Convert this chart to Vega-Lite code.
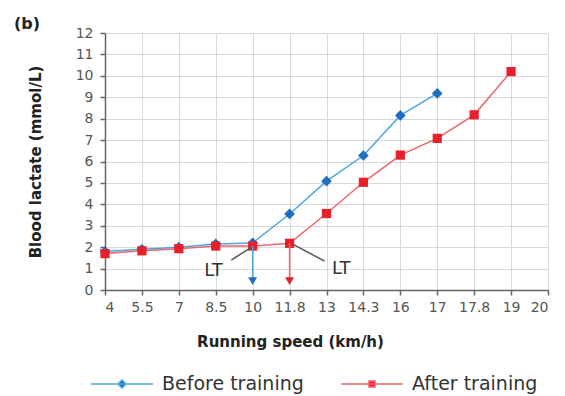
{
  "$schema": "https://vega.github.io/schema/vega-lite/v6.json",
  "autosize": "none",
  "width": 443,
  "height": 257,
  "padding": {"left": 105, "top": 33, "right": 17, "bottom": 106},
  "background": "white",
  "title": {"text": "(b)", "anchor": "start", "frame": "group", "dx": -91, "offset": -6, "fontSize": 16, "fontWeight": "bold", "font": "DejaVu Sans", "color": "#222"},
  "config": {
    "font": "DejaVu Sans",
    "view": {"stroke": null},
    "axis": {"gridColor": "#d9d9d9", "gridWidth": 1, "domainColor": "#666", "domainWidth": 1.5, "tickColor": "#666", "tickWidth": 1.5, "tickSize": 5, "labelColor": "#555", "labelFontSize": 14, "titleFontSize": 15, "titleFontWeight": "bold", "titleColor": "#222", "labelFont": "DejaVu Sans", "titleFont": "DejaVu Sans", "labelOverlap": false, "tickCount": 13},
    "legend": {"orient": "none", "legendX": -15, "legendY": 319, "direction": "horizontal", "title": null, "symbolSize": 3844, "symbolStrokeWidth": 1.5, "labelFontSize": 19, "labelFont": "DejaVu Sans", "labelColor": "#333", "labelOffset": 8, "columnPadding": 34}
  },
  "datasets": {
    "series": [
      {"pos": 0, "speed": "4", "lactate": 1.8, "group": "Before training"},
      {"pos": 1, "speed": "5.5", "lactate": 1.9, "group": "Before training"},
      {"pos": 2, "speed": "7", "lactate": 2.0, "group": "Before training"},
      {"pos": 3, "speed": "8.5", "lactate": 2.15, "group": "Before training"},
      {"pos": 4, "speed": "10", "lactate": 2.2, "group": "Before training"},
      {"pos": 5, "speed": "11.8", "lactate": 3.55, "group": "Before training"},
      {"pos": 6, "speed": "13", "lactate": 5.08, "group": "Before training"},
      {"pos": 7, "speed": "14.3", "lactate": 6.28, "group": "Before training"},
      {"pos": 8, "speed": "16", "lactate": 8.15, "group": "Before training"},
      {"pos": 9, "speed": "17", "lactate": 9.18, "group": "Before training"},
      {"pos": 0, "speed": "4", "lactate": 1.7, "group": "After training"},
      {"pos": 1, "speed": "5.5", "lactate": 1.83, "group": "After training"},
      {"pos": 2, "speed": "7", "lactate": 1.93, "group": "After training"},
      {"pos": 3, "speed": "8.5", "lactate": 2.05, "group": "After training"},
      {"pos": 4, "speed": "10", "lactate": 2.05, "group": "After training"},
      {"pos": 5, "speed": "11.8", "lactate": 2.18, "group": "After training"},
      {"pos": 6, "speed": "13", "lactate": 3.57, "group": "After training"},
      {"pos": 7, "speed": "14.3", "lactate": 5.03, "group": "After training"},
      {"pos": 8, "speed": "16", "lactate": 6.3, "group": "After training"},
      {"pos": 9, "speed": "17", "lactate": 7.08, "group": "After training"},
      {"pos": 10, "speed": "17.8", "lactate": 8.18, "group": "After training"},
      {"pos": 11, "speed": "19", "lactate": 10.2, "group": "After training"}
    ],
    "arrows": [
      {"pos": 4, "top": 2.05, "tip": 0.42, "group": "Before training"},
      {"pos": 5, "top": 2.18, "tip": 0.42, "group": "After training"}
    ],
    "ltlines": [
      {"x1": 3.42, "y1": 1.4, "x2": 3.95, "y2": 1.98},
      {"x1": 5.07, "y1": 2.15, "x2": 5.95, "y2": 1.35}
    ],
    "ltlabels": [
      {"pos": 2.94, "val": 0.89, "label": "LT"},
      {"pos": 6.4, "val": 1.0, "label": "LT"}
    ]
  },
  "layer": [
    {
      "data": {"name": "series"},
      "mark": {"type": "line", "strokeWidth": 1.5},
      "encoding": {
        "x": {"field": "pos", "type": "quantitative", "scale": {"domain": [0, 12], "nice": false},
          "axis": {"values": [0,1,2,3,4,5,6,7,8,9,10,11,12], "labelExpr": "['4','5.5','7','8.5','10','11.8','13','14.3','16','17','17.8','19','20'][datum.value]", "title": "Running speed (km/h)", "titleX": 185, "titlePadding": 20, "labelPadding": 5}},
        "y": {"field": "lactate", "type": "quantitative", "scale": {"domain": [0, 12], "nice": false},
          "axis": {"values": [0,1,2,3,4,5,6,7,8,9,10,11,12], "title": "Blood lactate (mmol/L)", "titlePadding": 32, "labelPadding": 7}},
        "color": {"field": "group", "type": "nominal", "scale": {"domain": ["Before training", "After training"], "range": ["#4ea6e0", "#f0646e"]}}
      }
    },
    {
      "data": {"name": "series"},
      "transform": [{"filter": "datum.group === 'Before training'"}],
      "mark": {"type": "point", "shape": "diamond", "filled": true, "opacity": 1, "size": 115},
      "encoding": {
        "x": {"field": "pos", "type": "quantitative"},
        "y": {"field": "lactate", "type": "quantitative"},
        "fill": {"field": "group", "type": "nominal", "scale": {"domain": ["Before training", "After training"], "range": ["#1e6fc0", "#e8202a"]}}
      }
    },
    {
      "data": {"name": "series"},
      "transform": [{"filter": "datum.group === 'After training'"}],
      "mark": {"type": "point", "shape": "square", "filled": true, "opacity": 1, "size": 85},
      "encoding": {
        "x": {"field": "pos", "type": "quantitative"},
        "y": {"field": "lactate", "type": "quantitative"},
        "fill": {"field": "group", "type": "nominal"}
      }
    },
    {
      "data": {"name": "series"},
      "transform": [{"filter": "datum.pos < 0"}],
      "mark": {"type": "point", "filled": true, "opacity": 1, "strokeWidth": 1.5},
      "encoding": {
        "x": {"field": "pos", "type": "quantitative"},
        "y": {"field": "lactate", "type": "quantitative"},
        "shape": {"field": "group", "type": "nominal", "scale": {"domain": ["Before training", "After training"], "range": ["M-1,0H1M0,-0.13L0.13,0L0,0.13L-0.13,0Z", "M-1,0H1M-0.1,-0.1H0.1V0.1H-0.1Z"]}},
        "fill": {"field": "group", "type": "nominal"},
        "stroke": {"field": "group", "type": "nominal", "scale": {"domain": ["Before training", "After training"], "range": ["#4ea6e0", "#f0646e"]}}
      }
    },
    {
      "data": {"name": "arrows"},
      "mark": {"type": "rule", "strokeWidth": 1.5},
      "encoding": {
        "x": {"field": "pos", "type": "quantitative"},
        "y": {"field": "top", "type": "quantitative"},
        "y2": {"field": "tip"},
        "color": {"field": "group", "type": "nominal"}
      }
    },
    {
      "data": {"name": "arrows"},
      "mark": {"type": "point", "shape": "triangle-down", "filled": true, "size": 80, "opacity": 1},
      "encoding": {
        "x": {"field": "pos", "type": "quantitative"},
        "y": {"field": "tip", "type": "quantitative"},
        "fill": {"field": "group", "type": "nominal"}
      }
    },
    {
      "data": {"name": "ltlines"},
      "mark": {"type": "rule", "stroke": "#555", "strokeWidth": 1.5},
      "encoding": {
        "x": {"field": "x1", "type": "quantitative"},
        "y": {"field": "y1", "type": "quantitative"},
        "x2": {"field": "x2"},
        "y2": {"field": "y2"}
      }
    },
    {
      "data": {"name": "ltlabels"},
      "mark": {"type": "text", "fontSize": 18, "color": "#333", "font": "DejaVu Sans"},
      "encoding": {
        "x": {"field": "pos", "type": "quantitative"},
        "y": {"field": "val", "type": "quantitative"},
        "text": {"field": "label"}
      }
    }
  ]
}
